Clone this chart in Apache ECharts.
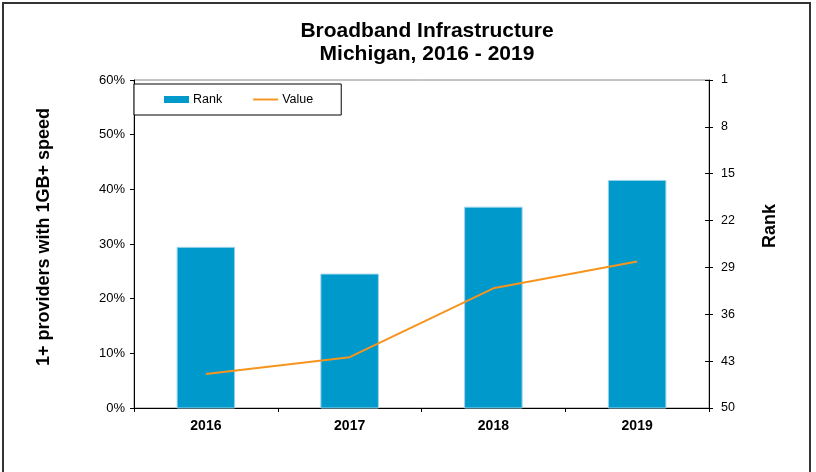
<!DOCTYPE html>
<html>
<head>
<meta charset="utf-8">
<script src="https://cdn.jsdelivr.net/npm/echarts@6/dist/echarts.min.js"></script>
<style>
  html, body { margin: 0; padding: 0; background: #fff; }
  #chart { width: 816px; height: 472px; }
</style>
</head>
<body>
<div id="chart"></div>
<script>
// Michigan broadband: state rank (bars, reversed right axis) and share with 1GB+ providers (line)
const years = ['2016', '2017', '2018', '2019'];
const rankValues = [26, 30, 20, 16];
const shareValues = [0.062, 0.093, 0.219, 0.268];
const rankTicks = [1, 8, 15, 22, 29, 36, 43, 50];

const FONT = '"Liberation Sans", Arial, sans-serif';
const BAR_COLOR = '#0099CC';
const LINE_COLOR = '#F7941D';

const chart = echarts.init(document.getElementById('chart'), null, { renderer: 'canvas' });

// Rank bars rise from the bottom of the reversed rank axis (rank 50) up to each rank.
function renderRankBar(params, api) {
  const idx = api.value(0);
  const rank = api.value(1);
  const top = api.coord([idx, rank]);
  const base = api.coord([idx, rankTicks[rankTicks.length - 1]]);
  const w = api.size([1, 0])[0] * 0.4;
  return {
    type: 'rect',
    shape: { x: top[0] - w / 2, y: top[1], width: w, height: base[1] - top[1] },
    style: { fill: BAR_COLOR, stroke: '#9BD3EA', lineWidth: 1 }
  };
}

const option = {
  animation: false,
  backgroundColor: '#fff',
  title: {
    text: 'Broadband Infrastructure\nMichigan, 2016 - 2019',
    left: 427,
    top: 20,
    textAlign: 'center',
    padding: 0,
    textStyle: { fontFamily: FONT, fontSize: 21, fontWeight: 'bold', color: '#000', lineHeight: 23 }
  },
  legend: {
    left: 134,
    top: 84,
    orient: 'horizontal',
    padding: [9, 28, 9, 30],
    itemGap: 31,
    itemWidth: 25,
    itemHeight: 7,
    borderColor: '#000',
    borderWidth: 1,
    backgroundColor: '#fff',
    textStyle: { fontFamily: FONT, fontSize: 12.5, color: '#000', padding: [0, 0, 0, -1] },
    data: [
      { name: 'Rank', icon: 'rect', itemStyle: { color: BAR_COLOR } },
      // plain line swatch for the share series
      { name: 'Value', icon: 'path://M0,0H26V2H0Z', itemStyle: { color: LINE_COLOR } }
    ]
  },
  grid: {
    left: 134,
    right: 107,
    top: 80,
    bottom: 64,
    show: true,
    borderColor: '#888',
    borderWidth: 1,
    backgroundColor: 'transparent'
  },
  xAxis: {
    type: 'category',
    data: years,
    boundaryGap: true,
    axisLine: { lineStyle: { color: '#000', width: 1 } },
    axisTick: { show: true, length: 4, lineStyle: { color: '#000' } },
    axisLabel: { fontFamily: FONT, fontSize: 14, fontWeight: 'bold', color: '#000', margin: 11 },
    splitLine: { show: false }
  },
  yAxis: [
    {
      type: 'value',
      position: 'left',
      min: 0,
      max: 0.6,
      interval: 0.1,
      axisLine: { show: true, lineStyle: { color: '#000', width: 1 } },
      axisTick: { show: true, length: 4, lineStyle: { color: '#000' } },
      axisLabel: {
        fontFamily: FONT, fontSize: 13, color: '#000', margin: 9,
        formatter: v => Math.round(v * 100) + '%'
      },
      splitLine: { show: false }
    },
    {
      type: 'value',
      position: 'right',
      inverse: true,
      min: 1,
      max: 50,
      interval: 7,
      axisLine: { show: true, lineStyle: { color: '#000', width: 1 } },
      axisTick: { show: true, length: 4, lineStyle: { color: '#000' } },
      axisLabel: { fontFamily: FONT, fontSize: 12.5, color: '#000', margin: 12 },
      splitLine: { show: false }
    },
    {
      // inner half of the rank ticks, so they cross the axis line
      type: 'value',
      position: 'right',
      inverse: true,
      min: 1,
      max: 50,
      interval: 7,
      axisLine: { show: false },
      axisTick: { show: true, inside: true, length: 4, lineStyle: { color: '#000' } },
      axisLabel: { show: false },
      splitLine: { show: false }
    }
  ],
  series: [
    {
      name: 'Rank',
      type: 'custom',
      yAxisIndex: 1,
      itemStyle: { color: BAR_COLOR },
      renderItem: renderRankBar,
      data: rankValues.map((r, i) => [i, r]),
      z: 2
    },
    {
      name: 'Value',
      type: 'line',
      yAxisIndex: 0,
      data: shareValues,
      symbol: 'none',
      showSymbol: false,
      lineStyle: { color: LINE_COLOR, width: 2 },
      itemStyle: { color: LINE_COLOR },
      z: 3
    }
  ],
  graphic: [
    {
      type: 'rect',
      shape: { x: 3, y: 3, width: 807, height: 490 },
      style: { fill: 'none', stroke: '#333', lineWidth: 2 },
      silent: true
    },
    {
      type: 'text',
      x: 44,
      y: 237,
      rotation: Math.PI / 2,
      style: {
        text: '1+ providers with 1GB+ speed',
        fontFamily: FONT, fontSize: 18, fontWeight: 'bold', fill: '#000',
        align: 'center', verticalAlign: 'middle'
      }
    },
    {
      type: 'text',
      x: 770,
      y: 226,
      rotation: Math.PI / 2,
      style: {
        text: 'Rank',
        fontFamily: FONT, fontSize: 18, fontWeight: 'bold', fill: '#000',
        align: 'center', verticalAlign: 'middle'
      }
    }
  ]
};

chart.setOption(option);
</script>
</body>
</html>
